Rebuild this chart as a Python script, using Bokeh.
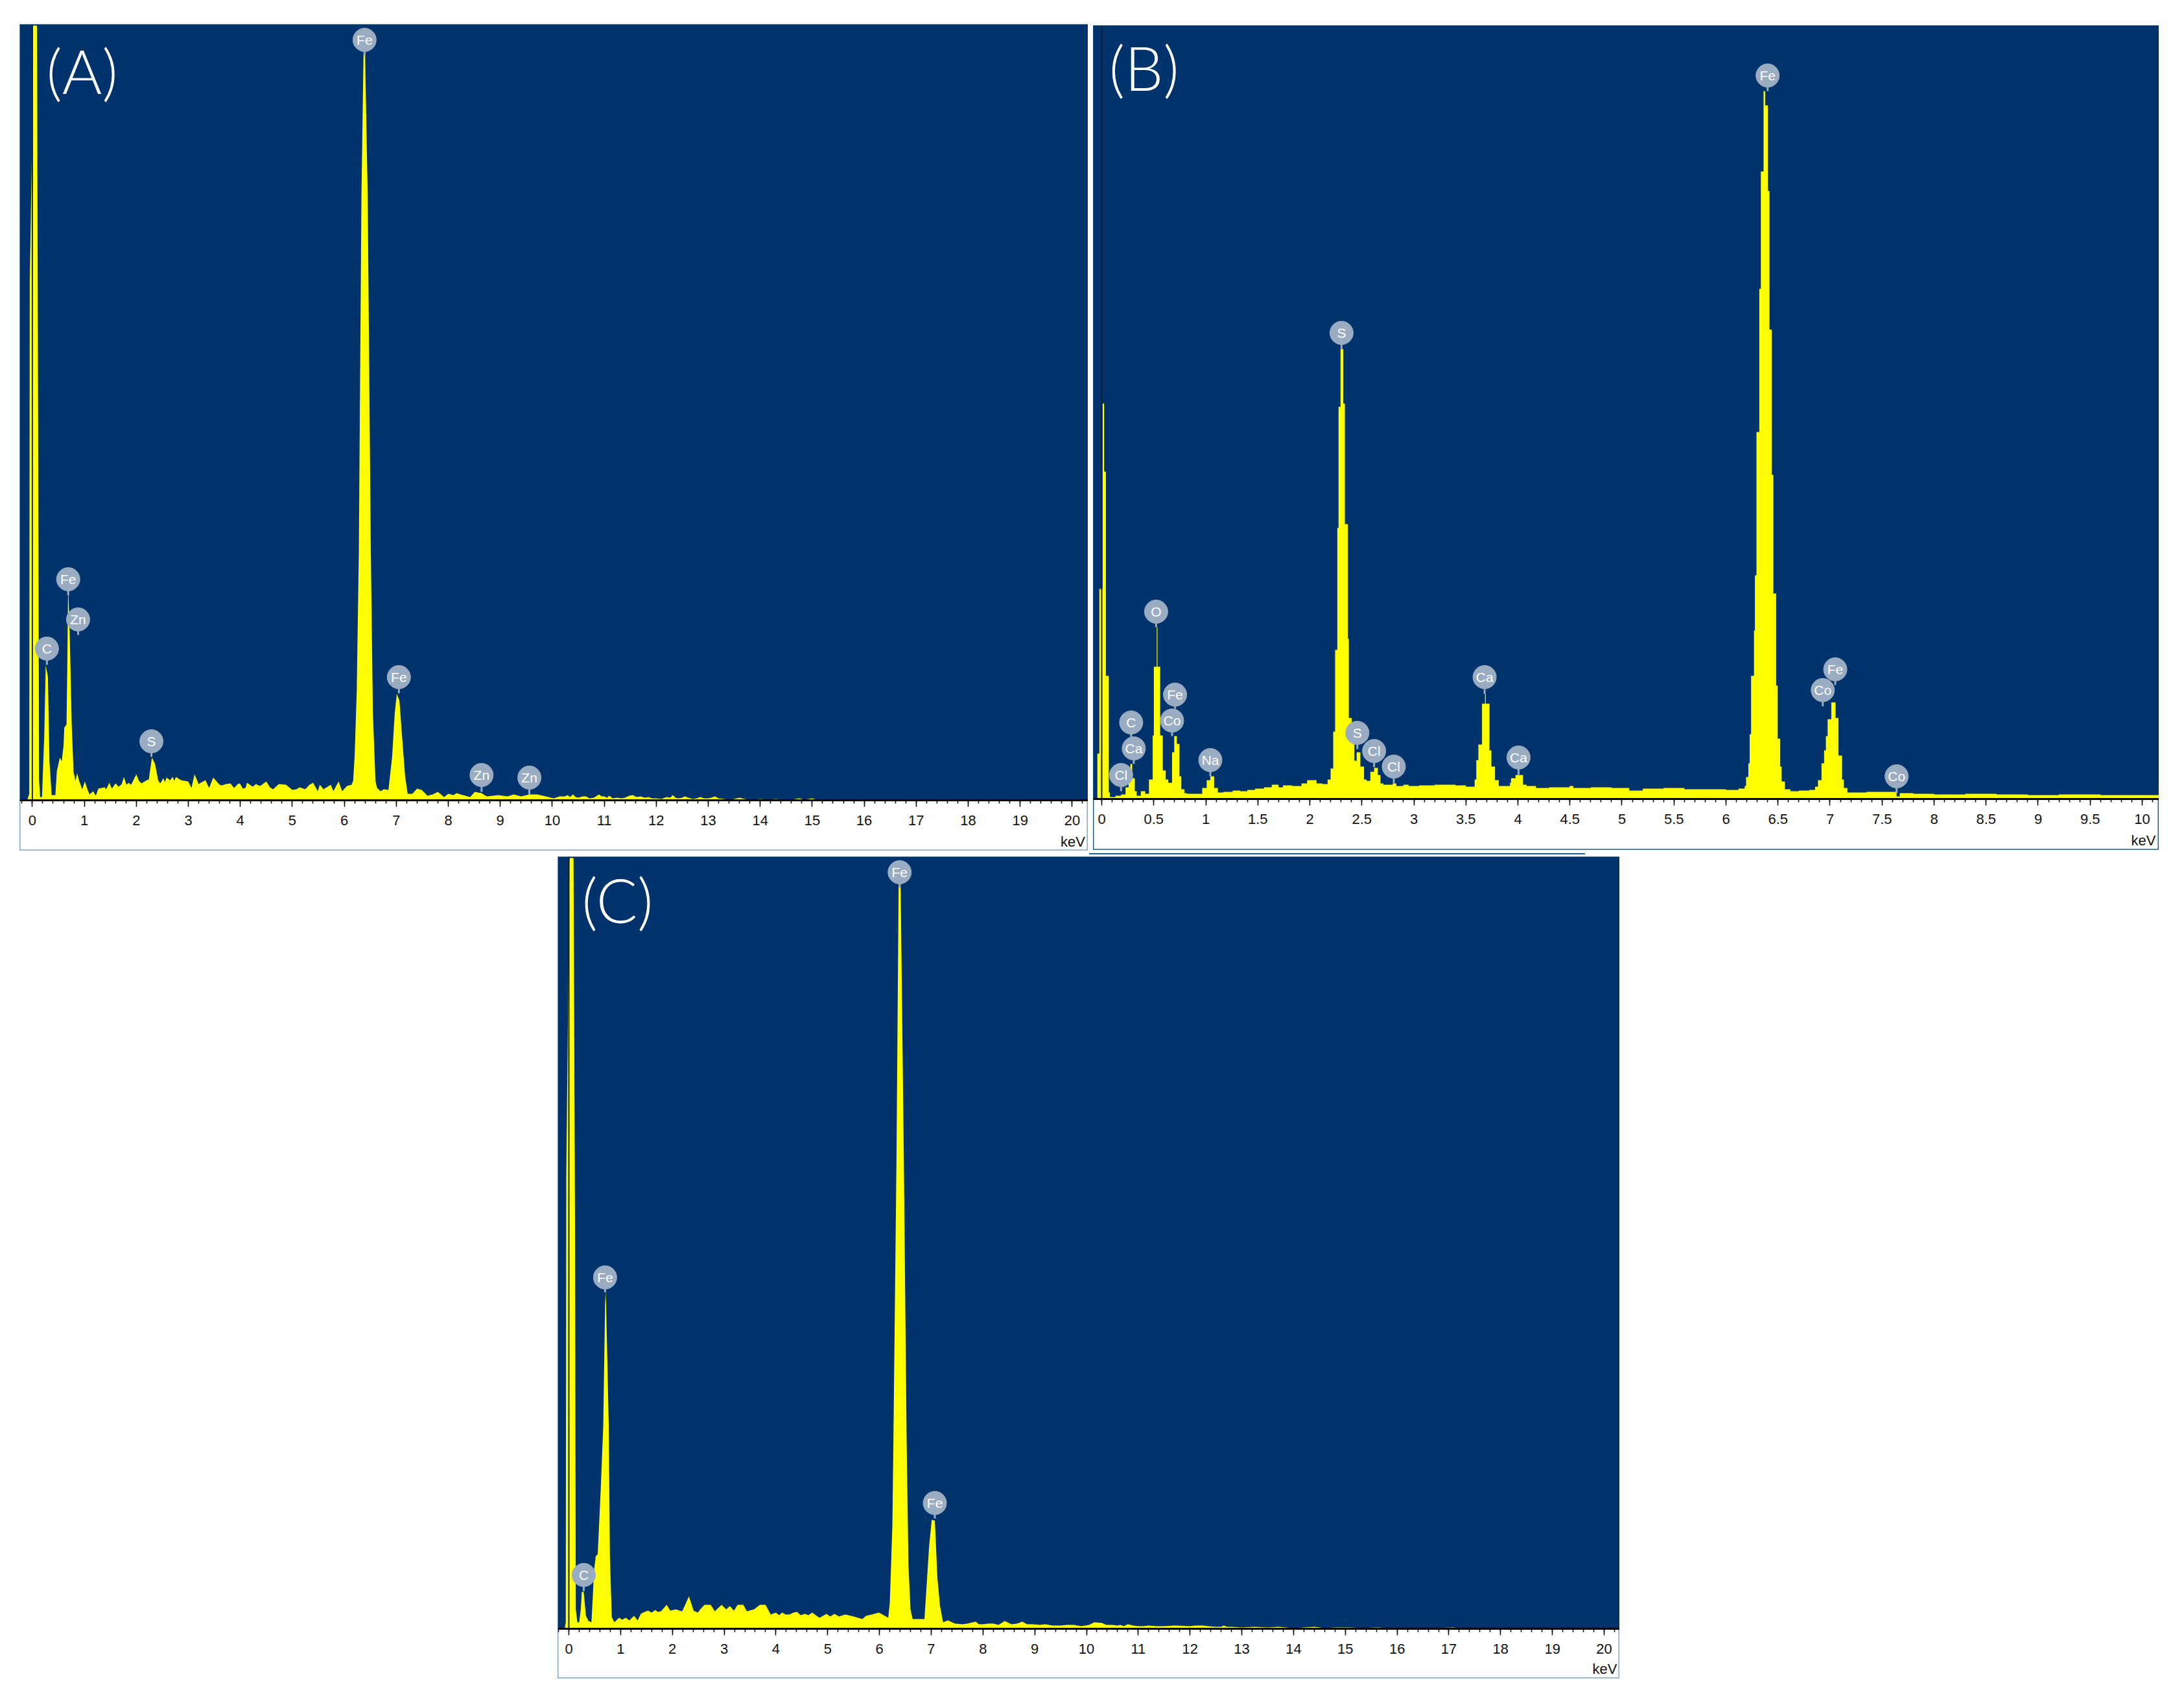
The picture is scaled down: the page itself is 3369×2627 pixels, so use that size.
from bokeh.plotting import figure
from bokeh.layouts import row, column
from bokeh.models import FixedTicker, BoxAnnotation, Label, Spacer
from bokeh.core.properties import value
from bokeh.embed import file_html
from bokeh.resources import INLINE
import numpy as np

# ---------- Panel A spectrum (keV, counts) ----------
A_spectrum = [(-0.1,0),(-0.06,10),(-0.05,800),(-0.01,1000),(0.01,1190),(0.015,1195),(0.085,1195),(0.09,1190),
 (0.11,600),(0.13,30),(0.15,5),(0.186,5),(0.229,100),(0.257,209),(0.3,190),(0.329,60),(0.371,8),(0.443,8),(0.471,45),
 (0.529,66),(0.564,60),(0.6,84),(0.614,112),(0.657,117),(0.671,200),(0.686,316),(0.695,316),(0.721,250),(0.757,117),
 (0.793,44),(0.83,30),(0.86,42),(0.9,30),(0.96,17),(1.01,29),(1.06,17),(1.1,9),(1.17,14),(1.22,7),(1.27,18),(1.33,19),(1.39,20),
 (1.42,17),(1.48,27),(1.53,18),(1.6,26),(1.66,21),(1.72,25),(1.76,36),(1.81,24),(1.85,27),(1.9,24),(2.0,40),(2.05,30),(2.1,26),(2.2,31),(2.24,32),
 (2.3,66),(2.36,56),(2.42,31),(2.46,26),(2.52,34),(2.55,28),(2.58,35),(2.65,31),(2.7,36),(2.73,30),(2.76,36),(2.86,31),(2.93,30),(3.0,29),(3.06,19),(3.12,40),(3.2,25),
 (3.26,28),(3.33,31),(3.4,19),(3.48,35),(3.6,24),(3.65,23),(3.72,25),(3.81,26),(3.88,19),(3.95,25),(3.99,26),(4.05,18),(4.1,19),(4.13,27),(4.24,21),(4.3,25),(4.38,22),(4.5,29),(4.57,20),(4.63,17),
 (4.74,25),(4.88,24),(5.0,16),(5.08,17),(5.14,20),(5.25,17),(5.33,24),(5.4,27),(5.49,14),(5.53,24),(5.6,17),(5.74,24),(5.79,14),(5.89,29),
 (5.96,14),(6.05,22),(6.14,24),(6.17,30),(6.2,70),(6.24,170),(6.28,384),(6.33,934),(6.37,1150),(6.385,1195),(6.4,1150),(6.45,934),
 (6.51,384),(6.55,134),(6.6,30),(6.63,19),(6.7,14),(6.76,17),(6.85,16),(6.92,67),(6.97,134),(7.01,164),(7.06,154),
 (7.11,100),(7.17,37),(7.22,10),(7.31,10),(7.4,18),(7.49,16),(7.6,7),(7.7,9),(7.8,13),(7.92,5),(8.0,10),(8.1,8),(8.16,11),(8.24,9),
 (8.42,5),(8.51,13),(8.64,11),(8.74,6),(8.85,7),(8.96,8),(9.14,6),(9.26,9),(9.4,6),(9.56,9),(9.71,9),(9.88,6),(10.03,3),(10.14,6),(10.24,6),
 (10.3,8),(10.34,5),(10.4,9),(10.45,5),(10.5,4),(10.58,6),(10.65,6),(10.72,3),(10.8,4),(10.86,7),(10.9,9),(10.95,6),(11.0,6),(11.05,4),(11.1,7),(11.16,3),(11.25,4),(11.33,3),(11.4,4),
 (11.48,7),(11.55,8),(11.62,5),(11.7,6),(11.78,4),(11.85,5),(11.92,3),(12.0,3),(12.1,2),(12.2,5),(12.27,4),(12.32,8),(12.37,4),(12.42,3),(12.5,4),(12.55,6),(12.62,4),(12.7,2),(12.78,3),(12.85,5),(12.92,3),(13.0,3),(13.06,4),(13.13,6),
 (13.2,3),(13.3,2),(13.4,1),(13.5,2),(13.6,4),(13.7,2),(13.8,1),(13.9,1),(14.0,2),(14.15,1),
 (14.3,2),(14.45,1),(14.6,1),(14.75,3),(14.85,1),(15.0,3),(15.08,1),(15.15,1),(15.6,1),(16.0,1),(16.55,1),(16.6,0),(16.8,1),(17.0,1),(17.1,0),
 (17.35,0),(17.45,1),(17.55,0),(18.25,0),(18.3,1),(18.4,0),(18.85,0),(18.9,1),(19.05,1),(19.1,0),(20.31,0)]

# ---------- Panel B spectrum (left bin edge keV, counts) ----------
B_bins = [(-0.042,70),(-0.023,324),(-0.002,324),(0.008,610),(0.023,505),(0.04,190),(0.068,10),(0.079,3),(0.132,5),(0.186,7),
 (0.229,18),(0.258,32),(0.275,54),(0.293,32),(0.318,12),(0.336,5),(0.376,12),(0.418,8),(0.454,30),(0.49,98),(0.501,204),
 (0.529,265),(0.536,204),(0.562,98),(0.587,44),(0.615,30),(0.64,25),(0.676,72),(0.697,97),(0.722,85),(0.747,35),(0.765,15),
 (0.794,9),(0.819,8),(0.966,17),(1.009,29),(1.044,35),(1.08,17),(1.116,10),(1.17,11),(1.259,13),(1.33,12),(1.40,14),(1.474,16),
 (1.56,18),(1.634,22),(1.70,18),(1.742,21),(1.83,20),(1.92,24),(1.974,29),(2.064,24),(2.12,23),(2.171,30),(2.2,47),(2.225,104),
 (2.243,230),(2.264,418),(2.276,605),(2.295,694),(2.322,610),(2.337,424),(2.366,247),(2.375,125),(2.403,95),(2.428,59),(2.45,72),
 (2.486,50),(2.521,30),(2.546,28),(2.582,42),(2.618,48),(2.654,37),(2.679,24),(2.707,22),(2.797,24),(2.832,20),(2.9,22),(2.95,20),
 (3.05,21),(3.2,22),(3.4,21),(3.5,19),(3.584,30),(3.6,60),(3.62,84),(3.655,147),(3.684,162),(3.691,147),(3.727,75),(3.745,50),(3.78,29),
 (3.816,20),(3.924,25),(3.934,32),(3.977,37),(4.049,22),(4.084,20),(4.174,17),(4.3,18),(4.496,20),(4.532,17),(4.7,18),(4.9,17),
 (5.07,13),(5.2,16),(5.4,17),(5.6,15),(5.8,15),(6.0,14),(6.12,16),(6.18,20),(6.193,34),(6.215,55),(6.228,100),(6.241,190),
 (6.269,260),(6.278,345),(6.293,566),(6.32,787),(6.335,968),(6.361,1092),(6.376,1070),(6.403,938),(6.418,724),(6.44,500),
 (6.455,317),(6.482,175),(6.497,93),(6.521,50),(6.535,27),(6.566,15),(6.62,12),(6.7,13),(6.8,14),(6.856,19),(6.884,29),(6.918,55),
 (6.943,75),(6.96,97),(6.977,123),(7.012,149),(7.053,125),(7.081,67),(7.115,30),(7.133,17),(7.167,10),(7.35,11),(7.64,4),(7.67,9),
 (7.8,8),(8.0,7),(8.3,8),(8.6,7),(8.9,6),(9.2,7),(9.6,6),(10.16,6)]

# ---------- Panel C spectrum (keV, counts) ----------
C_spectrum = [(-0.08,0),(-0.06,10),(-0.05,700),(-0.01,1000),(0.01,1185),(0.015,1189),(0.09,1189),(0.1,1000),(0.12,600),(0.134,30),
 (0.165,10),(0.2,10),(0.23,30),(0.25,57),(0.286,57),(0.33,20),(0.38,12),(0.436,10),(0.464,52),(0.486,90),(0.52,112),(0.557,115),
 (0.614,212),(0.664,312),(0.7,500),(0.71,520),(0.72,500),(0.771,312),(0.793,112),(0.829,18),(0.879,10),(0.97,17),(1.03,14),(1.1,17),
 (1.17,13),(1.26,20),(1.33,13),(1.39,23),(1.46,26),(1.53,28),(1.6,25),(1.67,29),(1.72,26),(1.78,27),(1.89,37),(1.96,28),(2.07,30),(2.14,28),(2.19,27),
 (2.32,50),(2.41,28),(2.49,25),(2.54,30),(2.62,37),(2.74,37),(2.82,27),(2.95,37),(3.04,30),(3.11,35),(3.19,28),(3.26,37),(3.37,37),
 (3.44,27),(3.58,30),(3.69,37),(3.8,37),(3.9,22),(4.0,25),(4.06,21),(4.12,25),(4.19,22),(4.26,22),(4.34,25),(4.41,26),(4.48,21),(4.56,23),(4.63,21),(4.7,25),(4.77,21),(4.84,17),(4.98,23),(5.05,19),(5.13,23),
 (5.22,19),(5.34,22),(5.5,19),(5.67,15),(5.74,20),(5.85,22),(5.99,25),(6.06,22),(6.17,17),(6.2,40),(6.25,160),(6.27,292),(6.33,733),(6.37,1143),(6.39,1189),
 (6.41,1143),(6.47,733),(6.525,292),(6.56,100),(6.6,30),(6.64,15),(6.72,15),(6.87,15),(6.92,78),(6.96,128),(7.01,168),(7.07,167),
 (7.12,78),(7.17,35),(7.23,10),(7.32,13),(7.46,8),(7.6,7),(7.7,8),(7.86,11),(7.92,7),(8.0,7),(8.1,8),(8.2,8),(8.3,6),(8.42,12),(8.55,7),(8.66,8),(8.76,11),(8.85,7),(8.95,7),(9.1,6),(9.2,7),
 (9.35,5),(9.5,5),(9.62,6),(9.75,6),(9.9,4),(10.05,6),(10.15,10),(10.3,9),(10.38,6),(10.5,6),(10.6,5),(10.65,6),(10.72,4),(10.8,7),(10.9,5),(11.0,4),(11.1,4),(11.2,5),(11.35,4),(11.5,4),(11.7,5),(12.0,4),(12.1,5),(12.25,5),(12.35,4),(12.5,3),
 (12.6,3),(12.65,5),(12.72,3),(12.8,3),(13.0,2),(13.25,3),(13.5,2),(13.7,3),(13.85,2),(14.0,1),(14.4,3),(14.6,1),(14.8,2),(15.1,2),(15.3,1),(15.6,2),(15.9,1),(16.7,1),(17.1,2),
 (17.2,0),(17.6,0),(17.65,1),(17.75,0),(18.15,0),(18.18,1),(18.22,0),(18.4,0),(18.43,1),(18.47,0),(20.3,0)]

# ---------- Peak markers: element, keV, marker height, leader tip height ----------
A_elements = ["Fe", "Zn", "C", "S", "Fe", "Zn", "Zn", "Fe"]
A_peak_kev = [0.69, 0.88, 0.28, 2.29, 7.05, 8.64, 9.56, 6.39]
A_marker_h = [341, 279, 234, 91, 190, 39, 35, 1173]
A_tip_h = [316, 255, 209, 67, 165, 13, 9, 1149]

B_elements = ["O", "Fe", "Co", "C", "Ca", "Cl", "Na", "S", "Cl", "Cl", "Ca", "Ca", "Fe", "Co", "Co", "Fe", "S"]
B_peak_kev = [0.523, 0.705, 0.676, 0.283, 0.308, 0.186, 1.044, 2.457, 2.618, 2.807, 3.68, 4.006, 7.05, 6.93, 7.64, 6.40, 2.305]
B_marker_h = [289, 161, 121, 118, 78, 37, 60, 102, 74, 50, 188, 64, 200, 168, 35, 1116, 719]
B_tip_h = [265, 139, 97, 95, 54, 12, 35, 77, 49, 24, 162, 37, 176, 143, 9, 1092, 694]

C_elements = ["C", "Fe", "Fe", "Fe"]
C_peak_kev = [0.288, 7.07, 0.70, 6.39]
C_marker_h = [83, 194, 542, 1167]
C_tip_h = [58, 170, 519, 1143]

# ---------- Axis ticks ----------
AC_ticks = list(range(0, 21))
AC_tick_labels = [str(t) for t in AC_ticks]
B_ticks = [0, 0.5, 1, 1.5, 2, 2.5, 3, 3.5, 4, 4.5, 5, 5.5, 6, 6.5, 7, 7.5, 8, 8.5, 9, 9.5, 10]
B_tick_labels = ["0", "0.5", "1", "1.5", "2", "2.5", "3", "3.5", "4", "4.5", "5", "5.5", "6", "6.5", "7", "7.5", "8", "8.5", "9", "9.5", "10"]

BLUE = "#00326B"
YELLOW = "#FFFF00"
MARK = "#9AACC1"


def panel(width, height, xr, yr, top_h, kev, counts, ticks, tick_labels, minor_step,
          elements, peak_kev, marker_h, tip_h, tag, tag_x, tag_h, kev_x, kev_h, border):
    p = figure(width=width, height=height, x_range=xr, y_range=yr, output_backend="svg",
               toolbar_location=None, min_border=0, min_border_left=0, min_border_right=0,
               min_border_top=0, min_border_bottom=0, y_axis_location=None,
               background_fill_color="white", border_fill_color="white",
               outline_line_color=border, outline_line_width=2)
    p.grid.visible = False
    p.add_layout(BoxAnnotation(bottom=0, fill_color=BLUE, fill_alpha=1, line_alpha=0, level="underlay"))
    p.varea(x=kev, y1=[0] * len(kev), y2=counts, fill_color=YELLOW)
    p.segment(x0=[0], y0=[0], x1=[0], y1=[top_h], line_color="#0B1F2E", line_width=2)

    ax = p.xaxis[0]
    ax.fixed_location = 0
    n = int(round((xr[1] + 2 * minor_step) / minor_step))
    minor = [round(-2 * minor_step + i * minor_step, 3) for i in range(n + 1)]
    ax.ticker = FixedTicker(ticks=ticks, minor_ticks=minor)
    ax.major_label_overrides = dict(zip(ticks, tick_labels))
    ax.axis_line_color = "black"
    ax.axis_line_width = 3
    ax.major_tick_line_color = "black"
    ax.minor_tick_line_color = "black"
    ax.major_tick_line_width = 1.5
    ax.minor_tick_line_width = 1.5
    ax.major_tick_in = 0
    ax.minor_tick_in = 0
    ax.major_tick_out = 10
    ax.minor_tick_out = 5
    ax.major_label_text_font = "Liberation Sans"
    ax.major_label_text_font_size = "22px"
    ax.major_label_text_color = "#111111"
    ax.major_label_standoff = 13

    p.segment(x0=peak_kev, y0=marker_h, x1=peak_kev, y1=tip_h, line_color=MARK, line_width=3)
    p.scatter(x=peak_kev, y=marker_h, marker="circle", size=36, fill_color=MARK, line_color=MARK)
    p.text(x=peak_kev, y=marker_h, text=elements, text_color="white", text_font=value("Liberation Sans"),
           text_font_size="21px", text_align="center", text_baseline="middle")

    p.add_layout(Label(x=tag_x, y=tag_h, text=tag, text_color="white", text_font="'Lato Light', Lato",
                       text_font_size="94px", text_baseline="middle", text_align="left"))
    p.add_layout(Label(x=kev_x, y=kev_h, text="keV", text_color="#111111", text_font="Liberation Sans",
                       text_font_size="22px", text_baseline="middle", text_align="right"))
    return p


A_kev, A_counts = zip(*A_spectrum)
C_kev, C_counts = zip(*C_spectrum)
B_edges, B_vals = zip(*B_bins)
B_kev = list(np.repeat(B_edges, 2)[1:-1])
B_counts = list(np.repeat(B_vals[:-1], 2))

pa = panel(1648, 1275, (-0.242, 20.307), (-78, 1197), 1197, list(A_kev), list(A_counts), AC_ticks, AC_tick_labels, 0.2,
           A_elements, A_peak_kev, A_marker_h, A_tip_h, "(A)", 0.27, 1126, 20.25, -64, "#7FA6CC")
pb = panel(1644, 1272, (-0.081, 10.162), (-79, 1193), 1193, B_kev, B_counts, B_ticks, B_tick_labels, 0.1,
           B_elements, B_peak_kev, B_marker_h, B_tip_h, "(B)", 0.07, 1129, 10.13, -64, "#1F5F96")
pc = panel(1638, 1268, (-0.213, 20.3), (-77, 1191), 1191, list(C_kev), list(C_counts), AC_ticks, AC_tick_labels, 0.2,
           C_elements, C_peak_kev, C_marker_h, C_tip_h, "(C)", 0.25, 1125, 20.25, -62, "#7FA6CC")

top = row(Spacer(width=30, height=10), pa, Spacer(width=8, height=10),
          column(Spacer(width=10, height=2), pb))
rule = row(Spacer(width=1680, height=2),
           Spacer(width=765, height=2, styles={"background-color": "#1F5F96"}))
bottom = row(Spacer(width=860, height=10), pc)
page = column(Spacer(width=10, height=37), top, Spacer(width=10, height=4), rule, Spacer(width=10, height=3), bottom)

open("out.html", "w").write(file_html(page, INLINE))
